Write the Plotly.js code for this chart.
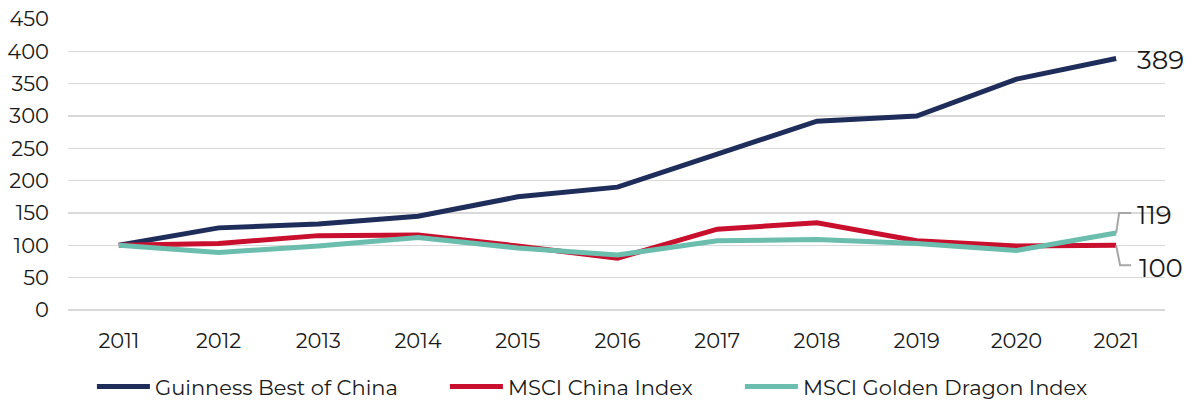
<!DOCTYPE html>
<html>
<head>
<meta charset="utf-8">
<script src="https://cdn.plot.ly/plotly-3.0.1.min.js"></script>
<style>
  html, body { margin: 0; padding: 0; background: #fff; }
  #chart { width: 1192px; height: 401px; }
</style>
</head>
<body>
<div id="chart"></div>
<script>
// Indexed performance, 2011 = 100
var years = [2011, 2012, 2013, 2014, 2015, 2016, 2017, 2018, 2019, 2020, 2021];
var guinness = [100, 127, 133, 145, 175, 190, 241, 292, 300, 357, 389];
var msciChina = [100, 103, 115, 116, 99, 80, 125, 135, 107, 99, 100];
var goldenDragon = [100, 89, 99, 112, 96, 85, 107, 109, 103, 92, 119];

var names = ["Guinness Best of China", "MSCI China Index", "MSCI Golden Dragon Index"];
var colors = ["#1f2d5a", "#c8102e", "#6bbdad"];
var series = [guinness, msciChina, goldenDragon];
var legendIds = ["legend", "legend2", "legend3"];
var legendX = [0.0218, 0.3436, 0.6125];

var font = "Montserrat, 'Open Sans', sans-serif";

var data = series.map(function(vals, i) {
  return {
    x: years, y: vals, name: names[i],
    type: "scatter", mode: "lines",
    line: {color: colors[i], width: 5},
    legend: legendIds[i],
    hoverinfo: "x+y"
  };
});

var last = years.length - 1;
var xEnd = years[last];

// end labels
var annotations = [
  {x: xEnd, y: guinness[last], text: String(guinness[last]), xshift: 19, yshift: -2},
  {x: xEnd, y: goldenDragon[last], text: String(goldenDragon[last]), xshift: 19, yshift: 18},
  {x: xEnd, y: msciChina[last], text: String(msciChina[last]), xshift: 21, yshift: -23}
].map(function(a) {
  a.xref = "x"; a.yref = "y"; a.showarrow = false;
  a.xanchor = "left"; a.yanchor = "middle";
  a.font = {family: font, size: 26, color: "#1a1a1a"};
  return a;
});

// leader lines (pixel offsets from the last point)
function leader(yVal, path) {
  return {
    type: "path", xref: "x", yref: "y",
    xsizemode: "pixel", ysizemode: "pixel",
    xanchor: xEnd, yanchor: yVal,
    path: path,
    line: {color: "#a6a6a6", width: 2}
  };
}
var shapes = [
  leader(goldenDragon[last], "M0,0 L3,20 L15,20"),
  leader(msciChina[last], "M0,0 L4,-20 L15,-20")
];

var layout = {
  width: 1192, height: 401,
  margin: {l: 68, r: 27, t: 19, b: 91, autoexpand: false},
  paper_bgcolor: "#fff", plot_bgcolor: "#fff",
  font: {family: font, size: 21, color: "#1a1a1a"},
  showlegend: true,
  xaxis: {
    range: [2010.49, 2021.49],
    tickmode: "array", tickvals: years, ticktext: years.map(String),
    showgrid: false, zeroline: false, showline: false,
    ticks: "", ticklabelstandoff: 16,
    tickfont: {family: font, size: 21, color: "#1a1a1a"}
  },
  yaxis: {
    range: [0, 450], dtick: 50, tick0: 0,
    showgrid: true, gridcolor: "#d9d9d9", gridwidth: 1.5,
    zeroline: true, zerolinecolor: "#d9d9d9", zerolinewidth: 1.5,
    showline: false, ticks: "", ticklabelstandoff: 18,
    tickfont: {family: font, size: 21, color: "#1a1a1a"}
  },
  annotations: annotations,
  shapes: shapes
};

legendIds.forEach(function(id, i) {
  layout[id] = {
    orientation: "h", x: legendX[i], xanchor: "left",
    yref: "container", y: 0.035, yanchor: "middle",
    font: {family: font, size: 21, color: "#1a1a1a"},
    itemwidth: 53, bgcolor: "rgba(0,0,0,0)"
  };
});

Plotly.newPlot("chart", data, layout, {displayModeBar: false, staticPlot: true});
</script>
</body>
</html>
